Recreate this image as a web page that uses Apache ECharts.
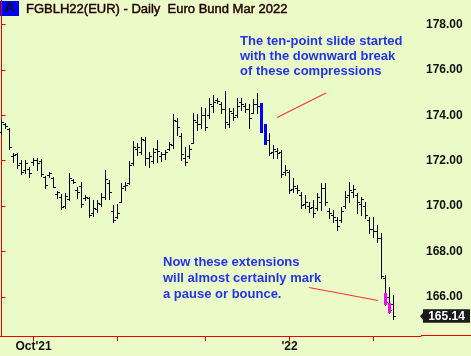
<!DOCTYPE html>
<html>
<head>
<meta charset="utf-8">
<script src="https://cdn.jsdelivr.net/npm/echarts@6/dist/echarts.min.js"></script>
<style>
html,body{margin:0;padding:0;background:#ebfbc8;}
#chart{width:471px;height:356px;}
</style>
</head>
<body>
<div id="chart"></div>
<script>
// Trading days (categories)
const dates = [
 '2021-09-21','2021-09-22','2021-09-23','2021-09-24','2021-09-27','2021-09-28','2021-09-29','2021-09-30',
 '2021-10-01','2021-10-04','2021-10-05','2021-10-06','2021-10-07','2021-10-08','2021-10-11','2021-10-12','2021-10-13','2021-10-14','2021-10-15','2021-10-18','2021-10-19','2021-10-20','2021-10-21','2021-10-22','2021-10-25','2021-10-26','2021-10-27','2021-10-28','2021-10-29',
 '2021-11-01','2021-11-02','2021-11-03','2021-11-04','2021-11-05','2021-11-08','2021-11-09','2021-11-10','2021-11-11','2021-11-12','2021-11-15','2021-11-16','2021-11-17','2021-11-18','2021-11-19','2021-11-22','2021-11-23','2021-11-24','2021-11-25','2021-11-26','2021-11-29','2021-11-30',
 '2021-12-01','2021-12-02','2021-12-03','2021-12-06','2021-12-07','2021-12-08','2021-12-09','2021-12-10','2021-12-13','2021-12-14','2021-12-15','2021-12-16','2021-12-17','2021-12-20','2021-12-21','2021-12-22','2021-12-23','2021-12-27','2021-12-28','2021-12-29','2021-12-30',
 '2022-01-03','2022-01-04','2022-01-05','2022-01-06','2022-01-07','2022-01-10','2022-01-11','2022-01-12','2022-01-13','2022-01-14','2022-01-17','2022-01-18','2022-01-19','2022-01-20','2022-01-21','2022-01-24','2022-01-25','2022-01-26','2022-01-27','2022-01-28','2022-01-31',
 '2022-02-01','2022-02-02','2022-02-03','2022-02-04','2022-02-07','2022-02-08'
];
const opens  = [173.25,173.60,173.40,172.20,172.30,171.90,171.60,171.65,
 171.95,172.05,172.00,171.30,171.35,171.25,170.55,170.40,170.00,170.30,171.15,170.70,170.90,170.35,170.35,169.70,169.85,170.10,170.40,171.00,169.80,
 169.50,170.20,170.90,171.00,171.90,172.50,172.40,172.90,172.10,172.00,172.50,172.20,172.30,172.50,172.70,173.75,173.10,172.10,172.20,172.80,173.70,173.60,
 174.00,174.00,174.40,174.70,174.50,174.30,173.60,174.10,174.00,174.60,174.40,174.30,174.10,174.50,174.45,173.30,172.90,172.40,172.45,172.40,171.50,
 171.50,170.75,170.80,170.50,170.10,170.00,169.95,169.90,170.20,170.80,169.80,169.60,169.40,169.40,170.00,170.50,170.60,170.50,170.10,170.00,169.40,
 169.00,168.90,168.60,166.85,166.00,165.70];
const highs  = [173.80,173.66,173.44,172.34,172.34,172.03,172.03,171.72,
 172.12,172.12,172.08,171.33,171.50,171.28,170.66,170.53,170.58,171.46,171.19,170.84,171.06,170.49,170.40,170.27,170.27,170.58,171.59,171.15,170.05,
 170.09,171.02,171.06,171.99,172.87,172.78,173.05,173.05,172.39,172.56,172.91,172.39,172.47,172.83,174.06,173.88,173.22,172.61,172.69,174.11,174.06,174.37,
 174.33,174.77,174.90,174.77,174.59,175.08,174.33,174.33,174.77,174.77,174.55,174.50,174.72,174.99,174.55,173.62,173.22,172.69,172.56,172.47,171.81,
 171.59,171.24,170.93,170.62,170.49,170.18,170.27,170.58,171.02,171.02,169.92,169.83,169.52,169.96,170.66,171.06,170.93,170.58,170.40,170.18,169.52,
 169.52,169.17,168.81,166.96,166.43,166.08];
const lows   = [173.18,173.44,172.52,171.94,171.68,171.41,171.46,171.28,
 171.81,171.59,171.33,170.80,171.28,170.84,170.36,169.87,169.92,170.27,171.02,170.36,169.96,170.27,169.52,169.56,169.74,170.00,170.31,170.31,169.30,
 169.47,170.18,170.71,170.97,171.81,172.25,172.30,171.81,171.72,171.90,171.94,171.99,172.08,172.47,172.56,173.14,172.03,171.81,172.12,172.78,173.36,173.44,
 173.36,173.88,174.15,174.55,174.11,173.44,173.49,173.80,173.93,174.24,174.15,173.44,174.11,174.11,173.22,172.69,172.25,172.12,172.12,171.28,171.37,
 170.58,170.62,170.58,169.92,169.92,169.74,169.52,169.83,169.83,170.05,169.47,169.30,168.94,169.30,169.92,170.18,170.40,169.69,169.61,169.47,168.81,
 168.64,168.42,166.83,165.64,165.28,165.02];
const closes = [173.70,173.55,172.60,172.25,171.80,171.50,171.90,171.45,
 172.05,171.90,171.40,170.95,171.45,170.85,170.60,169.95,170.45,171.25,171.05,170.60,170.10,170.40,169.60,169.90,170.15,170.40,171.20,170.60,169.40,
 169.70,170.80,170.95,171.80,172.60,172.60,172.95,172.10,172.20,172.40,172.45,172.30,172.40,172.75,173.80,173.50,172.30,171.95,172.50,173.80,173.60,174.00,
 173.50,174.50,174.60,174.65,174.30,173.70,174.20,173.95,174.40,174.50,174.30,173.90,174.50,174.40,173.30,172.80,172.35,172.50,172.35,171.40,171.60,
 170.70,170.90,170.70,170.05,170.20,169.90,169.70,170.40,170.80,170.20,169.70,169.50,169.10,169.80,170.40,170.70,170.75,170.20,170.30,169.60,169.00,
 168.90,168.60,166.90,165.75,165.40,165.14];
// Highlighted bars
const compressionDates = ['2021-12-21','2021-12-22'];
const extensionDates = ['2022-02-04','2022-02-07'];
const extensionTop = [166.17, 165.72];
const extensionBottom = [165.64, 165.28];
// Axis ticks
const yTicks = [166,168,170,172,174,176,178];
const xTickDates = ['2021-10-01','2021-11-01','2021-12-01','2022-01-03','2022-02-01'];
const xTickLabels = ["Oct'21","","","'22",""];
const lastPrice = 165.14;

const FONT = '"Liberation Sans", Arial, sans-serif';
const ohlc = dates.map((d,i)=>[i, opens[i], highs[i], lows[i], closes[i]]);
const xTickIdx = xTickDates.map(d=>dates.indexOf(d));
const blueIdx = compressionDates.map(d=>dates.indexOf(d));
const magIdx = extensionDates.map(d=>dates.indexOf(d));

const chart = echarts.init(document.getElementById('chart'), null, {renderer:'canvas'});
const xmin = -0.375, pxPerBar = 4, plotW = 421;

function renderItem(params, api){
  const i = api.value(0);
  const pH = api.coord([i, api.value(2)]);
  const pL = api.coord([i, api.value(3)]);
  const pO = api.coord([i, api.value(1)]);
  const pC = api.coord([i, api.value(4)]);
  const col = Math.floor(pH[0]);
  const yH = Math.round(pH[1]), yL = Math.round(pL[1]);
  const yO = Math.round(pO[1]), yC = Math.round(pC[1]);
  const children = [];
  const bi = blueIdx.indexOf(i);
  if (bi >= 0){
    children.push({type:'rect', shape:{x:col-1, y:yH, width:3, height:Math.max(1,yL-yH)}, style:{fill:'#0000ff'}});
  } else {
    children.push({type:'rect', shape:{x:col, y:yH, width:1, height:Math.max(1,yL-yH+1)}, style:{fill:'#000'}});
    children.push({type:'rect', shape:{x:col-2, y:yO, width:2, height:1}, style:{fill:'#000'}});
    children.push({type:'rect', shape:{x:col+1, y:yC, width:2, height:1}, style:{fill:'#000'}});
  }
  const mi = magIdx.indexOf(i);
  if (mi >= 0){
    const t = api.coord([i, extensionTop[mi]]), b = api.coord([i, extensionBottom[mi]]);
    const yt = Math.round(t[1]), yb = Math.round(b[1]);
    children.push({type:'rect', shape:{x:col-1, y:yt, width:3, height:yb-yt}, style:{fill:'#ff00ff'}});
  }
  return {type:'group', children};
}

const option = {
  backgroundColor:'#ebfbc8',
  animation:false,
  grid:{left:0, right:50, top:0, bottom:20, containLabel:false},
  xAxis:{
    type:'value', min:xmin, max:xmin + plotW/pxPerBar,
    splitLine:{show:false},
    axisLine:{show:true, onZero:false, lineStyle:{color:'#ee0000', width:1}},
    axisTick:{show:true, length:5, lineStyle:{color:'#ee0000'}, customValues:xTickIdx},
    axisLabel:{customValues:xTickIdx, formatter:(v)=>{const k=xTickIdx.indexOf(Math.round(v)); return k>=0?xTickLabels[k]:'';},
      color:'#111', fontWeight:'bold', fontSize:12, fontFamily:FONT, margin:5}
  },
  yAxis:{
    type:'value', position:'right', min:164.27, max:179.09, scale:true,
    splitLine:{show:false},
    axisLine:{show:true, lineStyle:{color:'#ee0000', width:1}},
    axisTick:{show:true, length:4, lineStyle:{color:'#ee0000'}, customValues:yTicks},
    axisLabel:{customValues:yTicks, formatter:(v)=>v.toFixed(2), color:'#111', fontWeight:'bold', fontSize:12, fontFamily:FONT, margin:5}
  },
  series:[{
    type:'custom', renderItem, data:ohlc, encode:{x:0, y:[1,2,3,4]}, clip:false
  }],
  graphic:[]
};
chart.setOption(option);

const yLast = chart.convertToPixel({yAxisIndex:0}, lastPrice);
chart.setOption({graphic:[
  {type:'line', shape:{x1:421, y1:335.5, x2:471, y2:335.5}, style:{stroke:'#ee0000', lineWidth:1}, silent:true},
  {type:'rect', shape:{x:0, y:1, width:19, height:15}, style:{fill:'#0000ff'}},
  {type:'text', x:9.5, y:8.5, style:{text:'A', fill:'#111', font:'bold 14px '+FONT, align:'center', verticalAlign:'middle'}},
  {type:'text', x:26, y:9, style:{text:'FGBLH22(EUR) - Daily  Euro Bund Mar 2022', fill:'#220000', stroke:'#220000', lineWidth:0.45, font:'13px '+FONT, verticalAlign:'middle'}},
  {type:'text', x:240, y:34, style:{text:'The ten-point slide started\nwith the downward break\nof these compressions', fill:'#2233ee', font:'bold 13px '+FONT, lineHeight:15}},
  {type:'text', x:163, y:254, style:{text:'Now these extensions\nwill almost certainly mark\na pause or bounce.', fill:'#2233ee', font:'bold 13px '+FONT, lineHeight:16}},
  {type:'line', shape:{x1:277, y1:117.5, x2:326, y2:93}, style:{stroke:'#ff3333', lineWidth:1.2}},
  {type:'line', shape:{x1:309, y1:287.5, x2:378, y2:300.5}, style:{stroke:'#ff3333', lineWidth:1.2}},
  {type:'polygon', shape:{points:[[420,yLast],[423,yLast-3.5],[423,yLast-7],[470,yLast-7],[470,yLast+6.5],[423,yLast+6.5],[423,yLast+3.5]]}, style:{fill:'#1a1a1a'}},
  {type:'text', x:446.5, y:yLast, style:{text:lastPrice.toFixed(2), fill:'#ffffff', font:'bold 12px '+FONT, align:'center', verticalAlign:'middle'}}
]});
</script>
</body>
</html>
